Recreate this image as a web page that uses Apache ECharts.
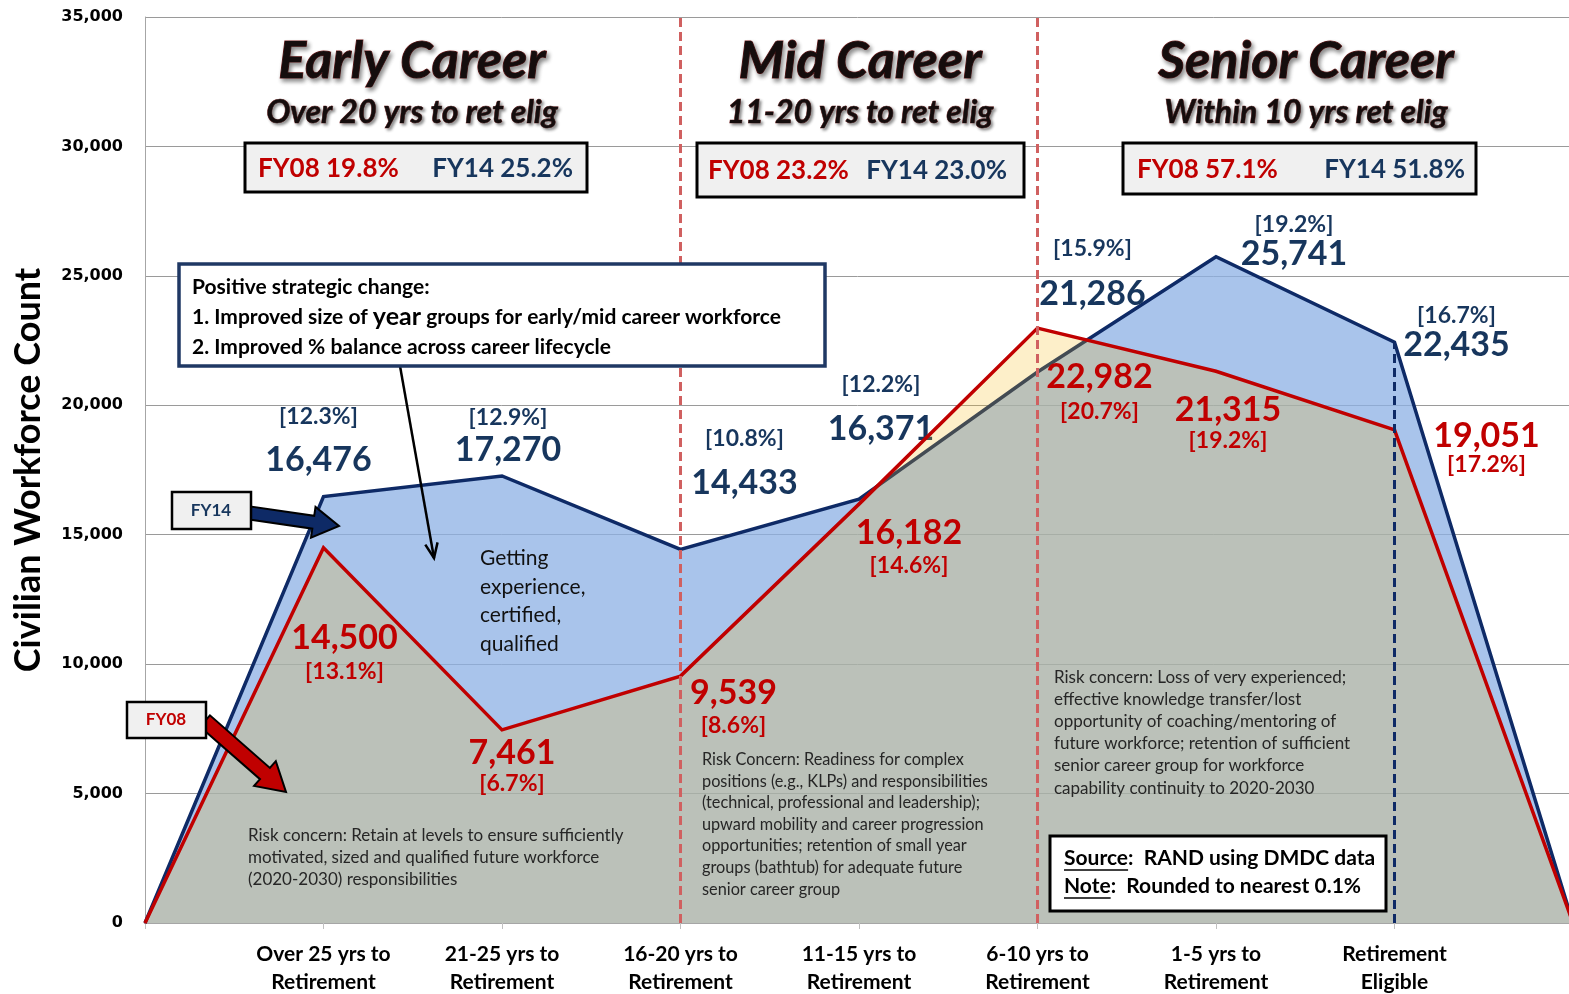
<!DOCTYPE html>
<html>
<head>
<meta charset="utf-8">
<script src="https://cdn.jsdelivr.net/npm/echarts@6/dist/echarts.min.js"></script>
<style>
html, body { margin: 0; padding: 0; background: #fff; }
#main { width: 1569px; height: 994px; }
</style>
</head>
<body>
<div id="main"></div>
<script>
// ---- data ----
var categories = ['', 'Over 25 yrs to\nRetirement', '21-25 yrs to\nRetirement', '16-20 yrs to\nRetirement',
    '11-15 yrs to\nRetirement', '6-10 yrs to\nRetirement', '1-5 yrs to\nRetirement', 'Retirement\nEligible', ' '];
var fy14 = [0, 16476, 17270, 14433, 16371, 21286, 25741, 22435, 0];
var fy08 = [0, 14500, 7461, 9539, 16182, 22982, 21315, 19051, 0];
var fy14Pct = [null, '12.3%', '12.9%', '10.8%', '12.2%', '15.9%', '19.2%', '16.7%', null];
var fy08Pct = [null, '13.1%', '6.7%', '8.6%', '14.6%', '20.7%', '19.2%', '17.2%', null];
var phaseTitles = ['Early Career', 'Mid Career', 'Senior Career'];
var phaseSubtitles = ['Over 20 yrs to ret elig', '11-20 yrs to ret elig', 'Within 10 yrs ret elig'];
var phaseFy08 = ['19.8%', '23.2%', '57.1%'];
var phaseFy14 = ['25.2%', '23.0%', '51.8%'];
var phaseDividers = [3, 5];      // category index of the red dashed lines
var retireIndex = 7;             // navy dashed line

// label placement (dx, dy, line height of the % line)
var fy14LabelPos = [null, [-5, -18, 50], [6, -7, 30], [64, -48, 52], [22, -52, 52], [55, -59, 56], [78, 16, 24], [62, 21, 22], null];
var fy08LabelPos = [null, [21, 72, 30], [10, 5, 24], [53, -2, 30], [50, 10, 30], [62, 30, 34], [12, 20, 26], [92, -12, 20], null];

var NAVY = '#0e2a66';
var NAVY_TXT = '#17365d';
var RED = '#c00000';
var FONT = 'Lato, "Open Sans", sans-serif';

function fmt(v) { return v.toLocaleString('en-US'); }

function buildItems(vals, pcts, pos, color, top) {
    return vals.map(function (v, i) {
        if (!pcts[i]) return { value: v, label: { show: false } };
        var p = pos[i];
        return {
            value: v,
            label: {
                show: true,
                position: top ? 'top' : 'bottom',
                distance: 0,
                offset: [p[0], p[1]],
                align: 'center',
                formatter: top ? '{p|[' + pcts[i] + ']}\n{v|' + fmt(v) + '}'
                               : '{v|' + fmt(v) + '}\n{p|[' + pcts[i] + ']}',
                rich: {
                    p: { fontFamily: FONT, fontSize: 23, fontWeight: 'bold', color: color, lineHeight: p[2], align: 'center' },
                    v: { fontFamily: FONT, fontSize: 34, fontWeight: 'bold', color: color, lineHeight: 36, align: 'center' }
                }
            }
        };
    });
}

function blockArrow(x1, y1, x2, y2, sw, hw, hl) {
    var dx = x2 - x1, dy = y2 - y1, L = Math.sqrt(dx * dx + dy * dy);
    var ux = dx / L, uy = dy / L, nx = -uy, ny = ux;
    var bx = x2 - ux * hl, by = y2 - uy * hl;
    return [[x1 + nx * sw / 2, y1 + ny * sw / 2], [bx + nx * sw / 2, by + ny * sw / 2], [bx + nx * hw / 2, by + ny * hw / 2],
        [x2, y2], [bx - nx * hw / 2, by - ny * hw / 2], [bx - nx * sw / 2, by - ny * sw / 2], [x1 - nx * sw / 2, y1 - ny * sw / 2]];
}

function arrowHead(x1, y1, x2, y2, len, ang) {
    var a = Math.atan2(y2 - y1, x2 - x1);
    return [[x2 - len * Math.cos(a - ang), y2 - len * Math.sin(a - ang)], [x2, y2],
        [x2 - len * Math.cos(a + ang), y2 - len * Math.sin(a + ang)]];
}

var ctx = document.createElement('canvas').getContext('2d');
function textW(str, font) { ctx.font = font; return ctx.measureText(str).width; }

// ---- annotation graphics ----
var g = [];
var phaseCx = [412, 860, 1306];
var boxes = [[245, 143, 342, 49], [697, 143, 327, 54], [1123, 143, 353, 51]];
var boxTxt = [[258, 573], [708, 1007], [1137, 1465]];
phaseTitles.forEach(function (t, i) {
    g.push({ type: 'text', z: 100, style: { text: t, x: phaseCx[i], y: 61, align: 'center', verticalAlign: 'middle',
        fontFamily: FONT, fontSize: 52, fontWeight: 'bold', fontStyle: 'italic', fill: '#150d0d',
        stroke: '#7a2020', lineWidth: 1, textShadowColor: 'rgba(0,0,0,0.45)', textShadowBlur: 4,
        textShadowOffsetX: 2, textShadowOffsetY: 3 } });
    g.push({ type: 'text', z: 100, style: { text: phaseSubtitles[i], x: phaseCx[i], y: 113, align: 'center', verticalAlign: 'middle',
        fontFamily: FONT, fontSize: 32, fontWeight: 'bold', fontStyle: 'italic', fill: '#150d0d',
        stroke: '#7a2020', lineWidth: 0.6, textShadowColor: 'rgba(0,0,0,0.45)', textShadowBlur: 3,
        textShadowOffsetX: 2, textShadowOffsetY: 2 } });
    var b = boxes[i];
    g.push({ type: 'rect', z: 100, shape: { x: b[0], y: b[1], width: b[2], height: b[3] },
        style: { fill: '#f0f0f0', stroke: '#000', lineWidth: 3 } });
    g.push({ type: 'text', z: 101, style: { text: 'FY08 ' + phaseFy08[i], x: boxTxt[i][0], y: b[1] + b[3] / 2 + 1,
        align: 'left', verticalAlign: 'middle', fontFamily: FONT, fontSize: 26, fontWeight: 'bold', fill: RED } });
    g.push({ type: 'text', z: 101, style: { text: 'FY14 ' + phaseFy14[i], x: boxTxt[i][1], y: b[1] + b[3] / 2 + 1,
        align: 'right', verticalAlign: 'middle', fontFamily: FONT, fontSize: 26, fontWeight: 'bold', fill: NAVY_TXT } });
});

// callout
g.push({ type: 'polyline', z: 100, shape: { points: [[400, 366], [434, 558]] }, style: { stroke: '#000', lineWidth: 2.5, fill: null } });
g.push({ type: 'polyline', z: 100, shape: { points: arrowHead(400, 366, 434, 558, 16, 0.4) }, style: { stroke: '#000', lineWidth: 2.5, fill: null } });
g.push({ type: 'rect', z: 101, shape: { x: 179, y: 264, width: 646, height: 102 }, style: { fill: '#fff', stroke: '#1f3864', lineWidth: 3.5 } });
g.push({ type: 'text', z: 102, style: { text: 'Positive strategic change:\n1. Improved size of {y|year} groups for early/mid career workforce\n2. Improved % balance across career lifecycle',
    x: 192, y: 272, align: 'left', verticalAlign: 'top', fontFamily: FONT, fontSize: 21, fontWeight: 'bold', fill: '#000', lineHeight: 30,
    rich: { y: { fontFamily: FONT, fontSize: 25, fontWeight: 'bold', fill: '#000', lineHeight: 30 } } } });

// FY14 / FY08 pointers
g.push({ type: 'polygon', z: 100, shape: { points: blockArrow(250, 513, 339, 526, 13, 31, 26) }, style: { fill: '#0e2a66', stroke: '#000', lineWidth: 2 } });
g.push({ type: 'rect', z: 101, shape: { x: 172, y: 492, width: 79, height: 37 }, style: { fill: '#f0f0f0', stroke: '#000', lineWidth: 2.5 } });
g.push({ type: 'text', z: 102, style: { text: 'FY14', x: 211, y: 511, align: 'center', verticalAlign: 'middle', fontFamily: FONT, fontSize: 17, fontWeight: 'bold', fill: NAVY_TXT } });
g.push({ type: 'polygon', z: 100, shape: { points: blockArrow(205, 721, 286, 792, 15, 33, 28) }, style: { fill: RED, stroke: '#000', lineWidth: 2 } });
g.push({ type: 'rect', z: 101, shape: { x: 127, y: 702, width: 79, height: 36 }, style: { fill: '#f0f0f0', stroke: '#000', lineWidth: 2.5 } });
g.push({ type: 'text', z: 102, style: { text: 'FY08', x: 166, y: 720, align: 'center', verticalAlign: 'middle', fontFamily: FONT, fontSize: 17, fontWeight: 'bold', fill: RED } });

// notes inside the areas
g.push({ type: 'text', z: 100, style: { text: 'Getting\nexperience,\ncertified,\nqualified', x: 480, y: 544, align: 'left', verticalAlign: 'top',
    fontFamily: FONT, fontSize: 21, fill: '#111', lineHeight: 28.5 } });
g.push({ type: 'text', z: 100, style: { text: 'Risk concern: Retain at levels to ensure sufficiently\nmotivated, sized and qualified future workforce\n(2020-2030) responsibilities',
    x: 248, y: 825, align: 'left', verticalAlign: 'top', fontFamily: FONT, fontSize: 17, fill: '#262626', lineHeight: 22 } });
g.push({ type: 'text', z: 100, style: { text: 'Risk Concern: Readiness for complex\npositions (e.g., KLPs) and responsibilities\n(technical, professional and leadership);\nupward mobility and career progression\nopportunities; retention of small year\ngroups (bathtub) for adequate future\nsenior career group',
    x: 702, y: 749, align: 'left', verticalAlign: 'top', fontFamily: FONT, fontSize: 16.3, fill: '#262626', lineHeight: 21.6 } });
g.push({ type: 'text', z: 100, style: { text: 'Risk concern: Loss of very experienced;\neffective knowledge transfer/lost\nopportunity of coaching/mentoring of\nfuture workforce; retention of sufficient\nsenior career group for workforce\ncapability continuity to 2020-2030',
    x: 1054, y: 666, align: 'left', verticalAlign: 'top', fontFamily: FONT, fontSize: 17, fill: '#262626', lineHeight: 22.2 } });

// source box
g.push({ type: 'rect', z: 100, shape: { x: 1050, y: 836, width: 336, height: 75 }, style: { fill: '#fff', stroke: '#000', lineWidth: 3 } });
var srcFont = 'bold 21px ' + FONT;
g.push({ type: 'text', z: 101, style: { text: 'Source:  RAND using DMDC data', x: 1064, y: 858, align: 'left', verticalAlign: 'middle',
    fontFamily: FONT, fontSize: 21, fontWeight: 'bold', fill: '#000' } });
g.push({ type: 'text', z: 101, style: { text: 'Note:  Rounded to nearest 0.1%', x: 1064, y: 886, align: 'left', verticalAlign: 'middle',
    fontFamily: FONT, fontSize: 21, fontWeight: 'bold', fill: '#000' } });
g.push({ type: 'line', z: 101, shape: { x1: 1064, y1: 870, x2: 1064 + textW('Source', srcFont), y2: 870 }, style: { stroke: '#000', lineWidth: 1.5 } });
g.push({ type: 'line', z: 101, shape: { x1: 1064, y1: 898, x2: 1064 + textW('Note', srcFont), y2: 898 }, style: { stroke: '#000', lineWidth: 1.5 } });

var chart = echarts.init(document.getElementById('main'), null, { renderer: 'canvas' });
var option = {
    animation: false,
    backgroundColor: '#fff',
    grid: { left: 145, right: -4, top: 17, bottom: 71, containLabel: false, outerBoundsMode: 'none' },
    xAxis: {
        type: 'category',
        boundaryGap: false,
        data: categories,
        axisLine: { show: true, lineStyle: { color: '#a6a6a6', width: 1 } },
        axisTick: { show: true, length: 6, lineStyle: { color: '#c0c0c0' } },
        axisLabel: { interval: 0, margin: 17, fontFamily: FONT, fontSize: 21, fontWeight: 'bold', color: '#000', lineHeight: 28 },
        splitLine: { show: false }
    },
    yAxis: {
        type: 'value',
        min: 0, max: 35000, interval: 5000,
        name: 'Civilian Workforce Count',
        nameLocation: 'middle',
        nameGap: 99,
        nameTextStyle: { fontFamily: FONT, fontSize: 36, fontWeight: 'bold', color: '#000' },
        axisLine: { show: true, lineStyle: { color: '#a6a6a6' } },
        axisTick: { show: false },
        axisLabel: { margin: 22, fontFamily: '"DejaVu Sans", Verdana, sans-serif', fontSize: 16, fontWeight: 'bold', color: '#000',
            formatter: function (v) { return fmt(v); } },
        splitLine: { show: true, lineStyle: { color: '#9a9a9a', width: 1 } }
    },
    series: [
        {
            name: 'FY14',
            type: 'line',
            data: buildItems(fy14, fy14Pct, fy14LabelPos, NAVY_TXT, true),
            symbol: 'circle', symbolSize: 1, showSymbol: true, showAllSymbol: true,
            itemStyle: { color: NAVY },
            lineStyle: { color: NAVY, width: 3.5, join: 'miter' },
            areaStyle: { color: 'rgba(140,176,228,0.75)', opacity: 1 },
            emphasis: { disabled: true },
            z: 2
        },
        {
            name: 'FY08',
            type: 'line',
            data: buildItems(fy08, fy08Pct, fy08LabelPos, RED, false),
            symbol: 'circle', symbolSize: 1, showSymbol: true, showAllSymbol: true,
            itemStyle: { color: RED },
            lineStyle: { color: RED, width: 3.5, join: 'miter' },
            areaStyle: { color: 'rgba(248,187,22,0.23)', opacity: 1 },
            emphasis: { disabled: true },
            z: 3,
            markLine: {
                silent: true,
                symbol: 'none',
                label: { show: false },
                data: phaseDividers.map(function (idx) {
                    return { xAxis: idx, lineStyle: { color: '#d06060', width: 3, type: [9, 5] } };
                }).concat([[
                    { coord: [retireIndex, 0], lineStyle: { color: NAVY, width: 3, type: [9, 5] } },
                    { coord: [retireIndex, fy14[retireIndex]] }
                ]])
            }
        }
    ],
    graphic: g
};
chart.setOption(option);
</script>
</body>
</html>
